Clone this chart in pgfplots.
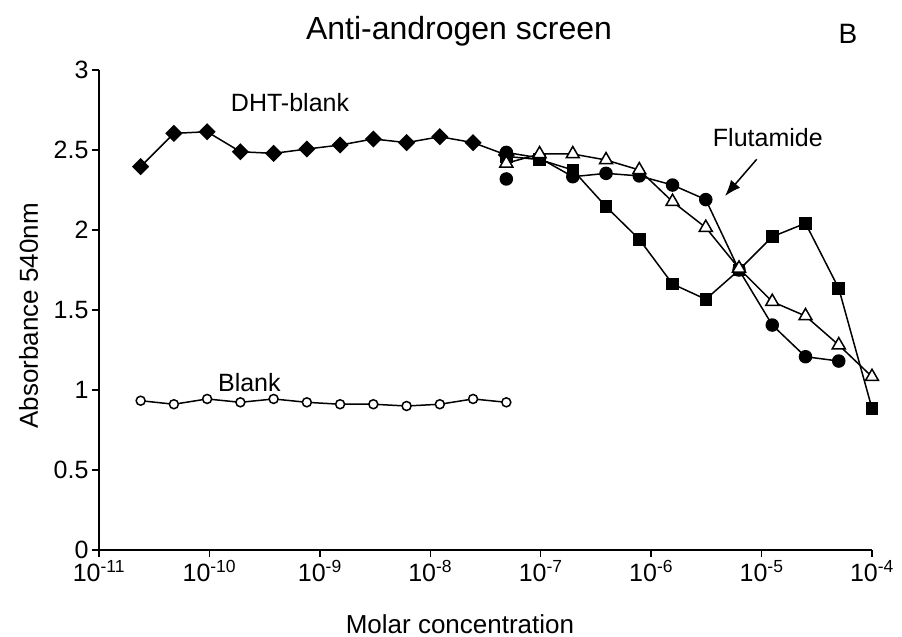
\documentclass[border=0pt]{standalone}
\usepackage{fontspec}
\setmainfont{Liberation Sans}
\usepackage{pgfplots}
\pgfplotsset{compat=1.18}
\usetikzlibrary{arrows.meta}
\begin{document}
\begin{tikzpicture}[x=1pt,y=1pt]
\useasboundingbox (-99,-87) rectangle (803,550);
\begin{axis}[
  at={(0,0)}, anchor=south west,
  scale only axis, width=773pt, height=480pt,
  xmode=log, xmin=1e-11, xmax=1e-4, ymin=0, ymax=3,
  axis lines=left, axis line style={-, line width=1.5pt},
  tick align=outside, major tick length=7pt,
  tick style={line width=1.5pt, black},
  xminorticks=false,
  xtick={1e-11,1e-10,1e-9,1e-8,1e-7,1e-6,1e-5,1e-4},
  xticklabels={10\textsuperscript{-11},10\textsuperscript{-10},10\textsuperscript{-9},10\textsuperscript{-8},10\textsuperscript{-7},10\textsuperscript{-6},10\textsuperscript{-5},10\textsuperscript{-4}},
  ytick={0,0.5,1,1.5,2,2.5,3},
  yticklabels={0,0.5,1,1.5,2,2.5,3},
  ticklabel style={font=\fontsize{25}{30}\selectfont},
  clip=false,
  every axis plot/.append style={line width=1.5pt, black},
]
% Blank
\addplot[mark=*, mark size=4.5pt, mark options={fill=white}] coordinates {
(2.384185791015625e-11,0.933) (4.76837158203125e-11,0.911) (9.5367431640625e-11,0.944)
(1.9073486328125e-10,0.923) (3.814697265625e-10,0.944) (7.62939453125e-10,0.923)
(1.52587890625e-9,0.911) (3.0517578125e-9,0.911) (6.103515625e-9,0.900)
(1.220703125e-8,0.911) (2.44140625e-8,0.944) (4.8828125e-8,0.923)};
% DHT-blank
\addplot[mark=square*, mark size=5.3pt, mark options={rotate=45}] coordinates {
(2.384185791015625e-11,2.396) (4.76837158203125e-11,2.604) (9.5367431640625e-11,2.614)
(1.9073486328125e-10,2.489) (3.814697265625e-10,2.479) (7.62939453125e-10,2.506)
(1.52587890625e-9,2.531) (3.0517578125e-9,2.569) (6.103515625e-9,2.546)
(1.220703125e-8,2.583) (2.44140625e-8,2.546) (4.8828125e-8,2.469)};
% squares
\addplot[mark=square*, mark size=5.5pt] coordinates {
(4.8828125e-8,2.46) (9.765625e-8,2.44) (1.953125e-7,2.375) (3.90625e-7,2.146)
(7.8125e-7,1.942) (1.5625e-6,1.6625) (3.125e-6,1.567) (6.25e-6,1.75)
(1.25e-5,1.958) (2.5e-5,2.042) (5e-5,1.635) (1e-4,0.885)};
% circles
\addplot[mark=*, mark size=6pt] coordinates {
(4.8828125e-8,2.485) (9.765625e-8,2.45) (1.953125e-7,2.333) (3.90625e-7,2.354)
(7.8125e-7,2.338) (1.5625e-6,2.281) (3.125e-6,2.19) (6.25e-6,1.75)
(1.25e-5,1.406) (2.5e-5,1.208) (5e-5,1.181)};
\addplot[only marks, mark=*, mark size=6pt] coordinates {(4.8828125e-8,2.319)};
% triangles
\addplot[mark=triangle*, mark size=7.5pt, mark options={fill=white}] coordinates {
(4.8828125e-8,2.417) (9.765625e-8,2.475) (1.953125e-7,2.475) (3.90625e-7,2.4375)
(7.8125e-7,2.375) (1.5625e-6,2.177) (3.125e-6,2.015) (6.25e-6,1.76)
(1.25e-5,1.552) (2.5e-5,1.4625) (5e-5,1.281) (1e-4,1.083)};
\node[font=\fontsize{25}{30}\selectfont] at (axis cs:5.37e-10,2.794) {DHT-blank};
\node[font=\fontsize{25}{30}\selectfont] at (axis cs:2.3e-10,1.044) {Blank};
\node[font=\fontsize{25}{30}\selectfont] at (axis cs:1.14e-5,2.58) {Flutamide};
\draw[line width=1.5pt, -{Latex[length=16pt,width=12pt]}] (axis cs:9.04e-6,2.442) -- (axis cs:4.67e-6,2.2125);
\end{axis}
\node[font=\fontsize{32}{38}\selectfont, anchor=base] at (360,510) {Anti-androgen screen};
\node[font=\fontsize{28}{34}\selectfont, anchor=base] at (749,506) {B};
\node[font=\fontsize{26}{31}\selectfont, anchor=base] at (361,-83) {Molar concentration};
\node[font=\fontsize{26}{31}\selectfont, rotate=90, anchor=base] at (-61,234) {Absorbance 540nm};
\end{tikzpicture}
\end{document}
